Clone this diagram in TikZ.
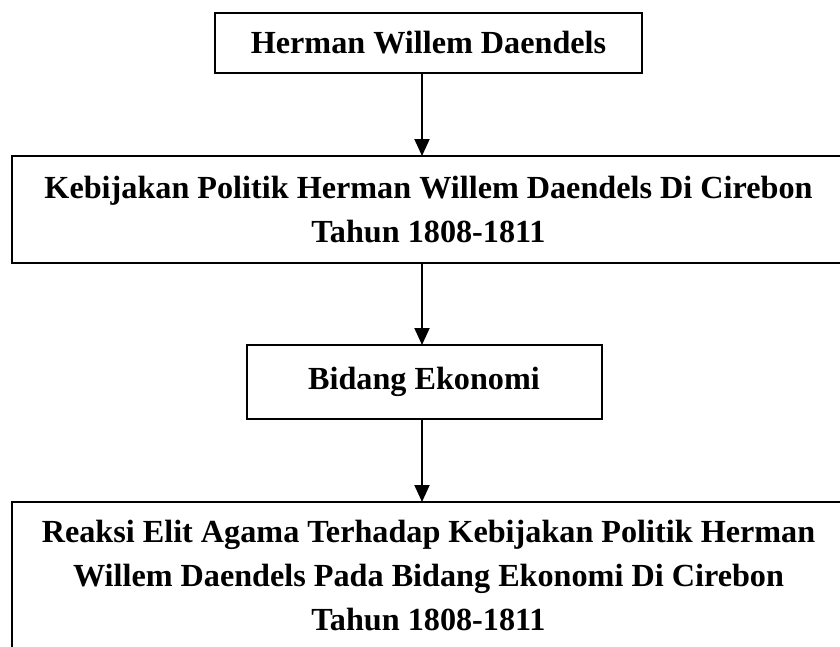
\documentclass[tikz,border=0pt]{standalone}
\usepackage{fontspec}
\setmainfont{Liberation Serif}
\usetikzlibrary{positioning,arrows.meta}

\begin{document}
\begin{tikzpicture}[
  font=\bfseries\fontsize{16.1}{22}\selectfont,
  node distance=41.5pt,
  every node/.style={align=center},
  kotak/.style  ={rectangle, draw=black, line width=1pt, inner sep=0pt, outer sep=0pt},
  tokoh/.style  ={kotak, minimum width=213.5pt, minimum height=30pt},
  lebar/.style  ={kotak, minimum width=417pt},
  bidang/.style ={kotak, minimum width=177.5pt, minimum height=37pt},
  edge/.style   ={draw=black, line width=1pt, -{Triangle[length=8.5pt,width=7.5pt]}},
]

% --- Bingkai gambar ---
\useasboundingbox (0,0) rectangle (420pt,-323.5pt);

% --- Tokoh ---
\node[tokoh] (daendels) at (214.25pt,-21.5pt) {Herman Willem Daendels};

% --- Kebijakan ---
\node[lebar, minimum height=53.5pt, below=of daendels] (politik)
  {Kebijakan Politik Herman Willem Daendels Di Cirebon\\Tahun 1808-1811};

% --- Bidang ---
\node[bidang, below=41pt of politik, xshift=-2.25pt] (ekonomi) {Bidang Ekonomi};

% --- Reaksi ---
\node[lebar, minimum height=74pt, below=of ekonomi, xshift=2.25pt] (reaksi)
  {Reaksi Elit Agama Terhadap Kebijakan Politik Herman\\Willem Daendels Pada Bidang Ekonomi Di Cirebon\\Tahun 1808-1811};

% --- Panah ---
\coordinate (poros) at (211pt,0);
\draw[edge] (poros |- daendels.south) -- (poros |- politik.north);
\draw[edge] (poros |- politik.south)  -- (poros |- ekonomi.north);
\draw[edge] (poros |- ekonomi.south)  -- (poros |- reaksi.north);

\end{tikzpicture}
\end{document}
